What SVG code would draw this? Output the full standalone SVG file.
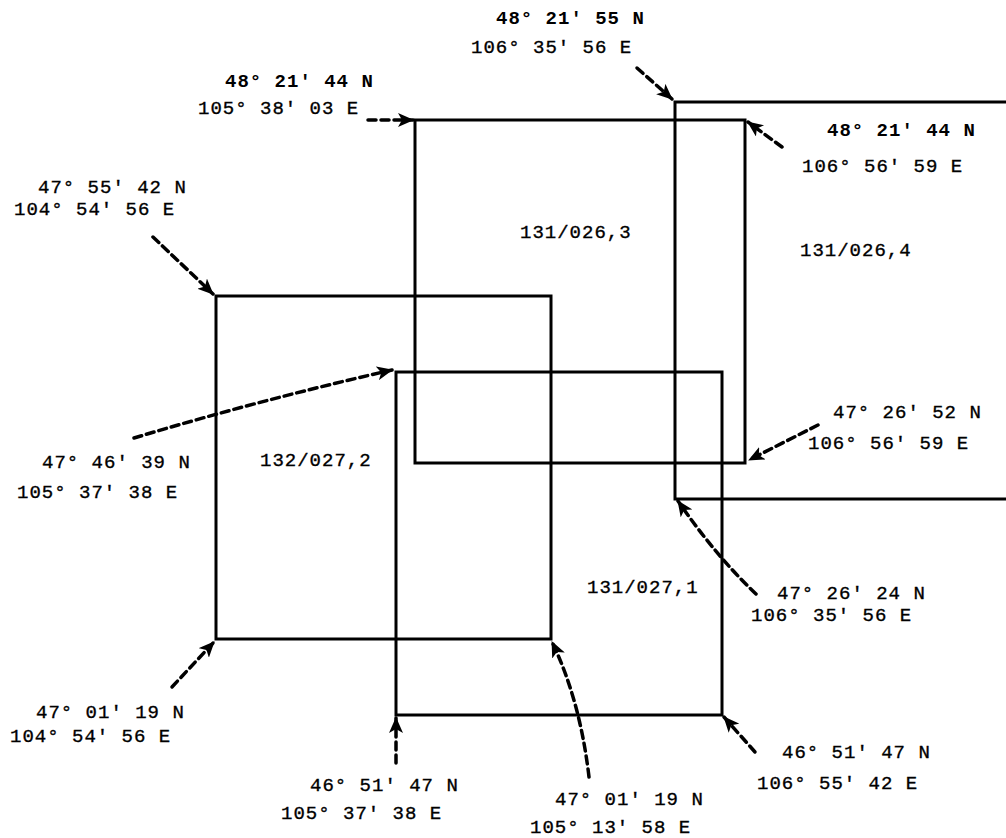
<svg xmlns="http://www.w3.org/2000/svg" width="1006" height="838" viewBox="0 0 1006 838">
<style>
.frame{fill:none;stroke:#000;stroke-width:3}
.lbl{font-family:"Liberation Mono","Courier New",monospace;font-size:19px;letter-spacing:1px;fill:#000;stroke:#000;stroke-width:0.35}
.b{font-weight:bold;stroke-width:0}
.ptr{fill:none;stroke:#000;stroke-width:3.5;stroke-dasharray:8 5;stroke-linecap:round;marker-end:url(#ah)}
</style>
<defs>
<marker id="ah" viewBox="0 0 16 14" refX="15" refY="7" markerWidth="16" markerHeight="14" markerUnits="userSpaceOnUse" orient="auto">
<path d="M0,0 L16,7 L0,14 L4,7 Z" fill="#000"/>
</marker>
</defs>
<rect width="1006" height="838" fill="#fff"/>
<g id="scene-131-026-4">
<path class="frame" d="M1006,102 H675 V499 H1006"/>
<text class="lbl" x="800" y="256">131/026,4</text>
</g>
<g id="scene-131-026-3">
<rect class="frame" x="415" y="120" width="330" height="343"/>
<text class="lbl" x="520" y="238">131/026,3</text>
</g>
<g id="scene-132-027-2">
<rect class="frame" x="216" y="296" width="335" height="343"/>
<text class="lbl" x="260" y="466">132/027,2</text>
</g>
<g id="scene-131-027-1">
<rect class="frame" x="396" y="372" width="326" height="343"/>
<text class="lbl" x="587" y="593">131/027,1</text>
</g>
<g id="coord-labels">
<text class="lbl b" x="496" y="24">48° 21' 55 N</text>
<text class="lbl" x="471" y="53">106° 35' 56 E</text>
<text class="lbl b" x="225" y="87">48° 21' 44 N</text>
<text class="lbl" x="198" y="114">105° 38' 03 E</text>
<text class="lbl b" x="827" y="136">48° 21' 44 N</text>
<text class="lbl" x="802" y="172">106° 56' 59 E</text>
<text class="lbl" x="38" y="193">47° 55' 42 N</text>
<text class="lbl" x="14" y="215">104° 54' 56 E</text>
<text class="lbl" x="42" y="468">47° 46' 39 N</text>
<text class="lbl" x="17" y="498">105° 37' 38 E</text>
<text class="lbl" x="833" y="418">47° 26' 52 N</text>
<text class="lbl" x="808" y="449">106° 56' 59 E</text>
<text class="lbl" x="777" y="599">47° 26' 24 N</text>
<text class="lbl" x="751" y="621">106° 35' 56 E</text>
<text class="lbl" x="36" y="718">47° 01' 19 N</text>
<text class="lbl" x="10" y="742">104° 54' 56 E</text>
<text class="lbl" x="310" y="791">46° 51' 47 N</text>
<text class="lbl" x="281" y="819">105° 37' 38 E</text>
<text class="lbl" x="782" y="758">46° 51' 47 N</text>
<text class="lbl" x="757" y="789">106° 55' 42 E</text>
<text class="lbl" x="555" y="805">47° 01' 19 N</text>
<text class="lbl" x="530" y="833">105° 13' 58 E</text>
</g>
<g id="connectors">
<path class="ptr" d="M368,120 L413,120"/>
<path class="ptr" d="M637,68 L672,99"/>
<path class="ptr" d="M782,147 L748,122"/>
<path class="ptr" d="M153,237 L213,294"/>
<path class="ptr" d="M134,438 Q260,400 392,370"/>
<path class="ptr" d="M818,425 L749,460"/>
<path class="ptr" d="M756,594 Q715,555 678,501"/>
<path class="ptr" d="M172,687 L214,642"/>
<path class="ptr" d="M396,763 L396,718"/>
<path class="ptr" d="M589,777 Q580,700 552,642"/>
<path class="ptr" d="M755,752 L724,717"/>
</g>
</svg>
